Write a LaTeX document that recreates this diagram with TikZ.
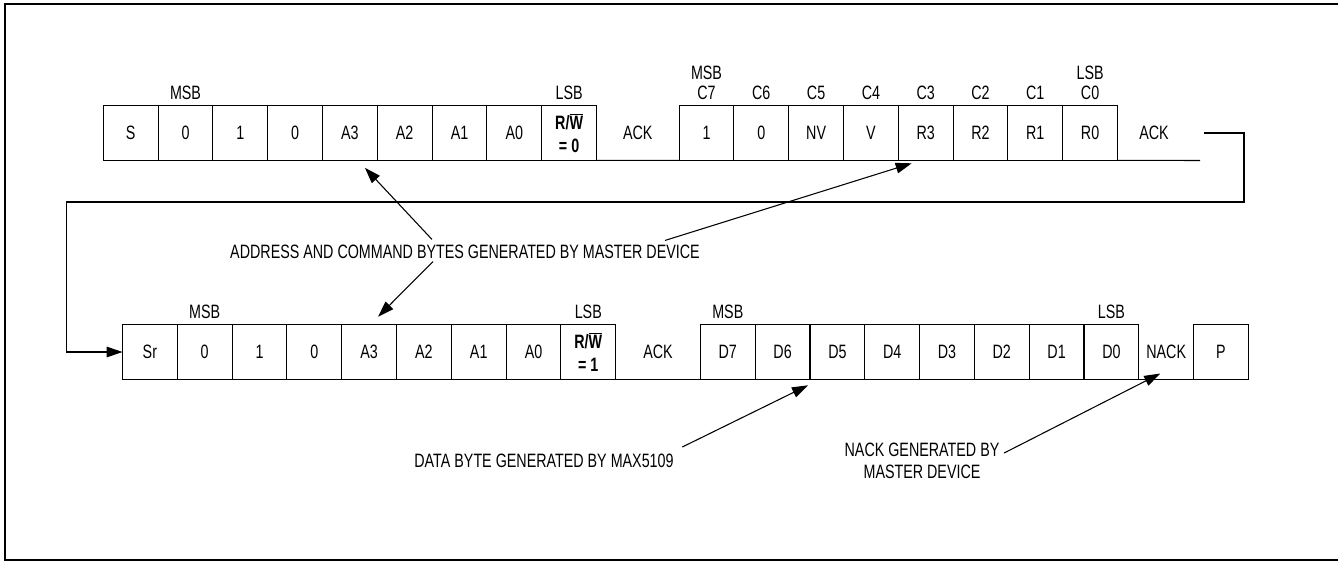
\documentclass[tikz,border=0pt]{standalone}
\usepackage{fontspec}
\setmainfont[FakeStretch=0.74]{Liberation Sans}
\usetikzlibrary{arrows.meta,calc}

\tikzset{
  bitcell/.style={draw, line width=0.8pt, minimum width=41.1pt, minimum height=40.95pt,
    inner sep=0pt, outer sep=0pt},
  bitlbl/.style={inner sep=0pt},
  rwbold/.style={font=\fontsize{14.5pt}{17pt}\selectfont\bfseries, align=center},
  pointer/.style={-{Triangle[length=12pt,width=8pt]}, line width=0.8pt},
}

\begin{document}
\begin{tikzpicture}[x=0.75pt, y=-0.75pt, font=\fontsize{14.5pt}{17pt}\selectfont]
\useasboundingbox (0,0) rectangle (1338,561);
\draw[line width=1.3pt] (1338,4) -- (5,4) -- (5,560) -- (1338,560);

% first frame: slave address (write) + command byte
\foreach \b [count=\i from 0] in {S,0,1,0,A3,A2,A1,A0}
  \node[bitcell] (ta\i) at (130.7+54.8*\i,133) {\b};
\node[bitcell, rwbold] (ta8) at (569.1,133) {R/$\overline{\hbox{W}}$\\= 0};
\node (tack) at (637.8,133) {ACK};
\foreach \b/\c [count=\i from 0] in {1/C7,0/C6,NV/C5,V/C4,R3/C3,R2/C2,R1/C1,R0/C0}
{
  \node[bitcell] (tc\i) at (706.5+54.8*\i,133) {\b};
  \node[bitlbl] (tcl\i) at ($(tc\i.north)+(0,-13)$) {\c};
}
\node (tack2) at (1154,133) {ACK};
\coordinate (tend) at (1200,160.5);
\draw[line width=0.8pt] (ta8.south east) -- (tc0.south west) (tc7.south east) -- (tend);
\node[bitlbl] (msb1) at ($(ta1.north)+(0,-13)$) {MSB};
\node[bitlbl] (lsb1) at ($(ta8.north)+(0,-13)$) {LSB};
\node[bitlbl] (msb2) at ($(tc0.north)+(0,-33)$) {MSB};
\node[bitlbl] (lsb2) at ($(tc7.north)+(0,-33)$) {LSB};

% second frame: repeated start, address (read), data byte
\foreach \b [count=\i from 0] in {Sr,0,1,0,A3,A2,A1,A0}
  \node[bitcell] (bs\i) at (149.9+54.8*\i,352) {\b};
\node[bitcell, rwbold] (bs8) at (588.3,352) {R/$\overline{\hbox{W}}$\\= 1};
\node (back) at (658,352) {ACK};
\foreach \b [count=\i from 0] in {D7,D6,D5,D4,D3,D2,D1,D0}
  \node[bitcell] (bd\i) at (727.8+54.8*\i,352) {\b};
\node (bnack) at (1166.2,352) {NACK};
\node[bitcell] (bp) at (1221,352) {P};
\draw[line width=0.8pt] (bs8.south east) -- (bd0.south west) (bd7.south east) -- (bp.south west);
\node[bitlbl] (msb3) at ($(bs1.north)+(0,-13)$) {MSB};
\node[bitlbl] (lsb3) at ($(bs8.north)+(0,-13)$) {LSB};
\node[bitlbl] (msb4) at ($(bd0.north)+(0,-13)$) {MSB};
\node[bitlbl] (lsb4) at ($(bd7.north)+(0,-13)$) {LSB};

% wrap-around from first to second frame
\coordinate (lp1) at (1204,133);
\coordinate (lp2) at (1244,202);
\coordinate (lp3) at (66.7,202);
\draw[pointer] (lp1) -| (lp2) -- (lp3) |- (bs0.west);

% captions
\node (addrtxt) at (465,252) {ADDRESS AND COMMAND BYTES GENERATED BY MASTER DEVICE};
\node (datatxt) at (544,461) {DATA BYTE GENERATED BY MAX5109};
\node[align=center] (nacktxt) at (922,461) {NACK GENERATED BY\\MASTER DEVICE};

\draw[pointer] ($(addrtxt.north)+(-33,-1)$) -- ($(ta4.south)+(15,7.5)$);
\draw[pointer] ($(addrtxt.north)+(200,0)$) -- ($(tc4.south)+(-14,3)$);
\draw[pointer] ($(addrtxt.south)+(-32,-2)$) -- ($(bs4.north)+(9,-8)$);
\draw[pointer] ($(datatxt.east)+(4,-14)$) -- ($(bd2.south west)+(-2,6)$);
\draw[pointer] ($(nacktxt.east)+(0,-8)$) -- ($(bnack.south)+(-6,10)$);
\end{tikzpicture}
\end{document}
